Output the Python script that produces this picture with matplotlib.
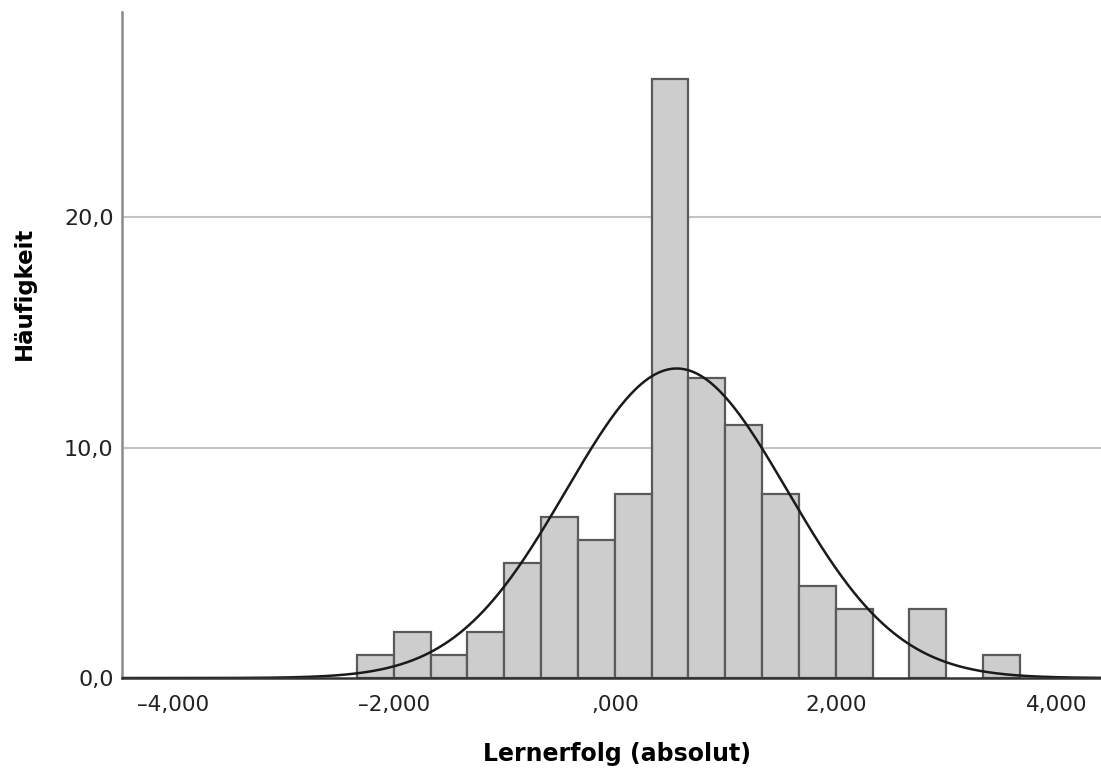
import numpy as np
import matplotlib
matplotlib.use("Agg")
import matplotlib.pyplot as plt

# ---- data ----
bin_start = -7 / 3          # left edge of first bin
bin_width = 1 / 3
counts = [1, 2, 1, 2, 5, 7, 6, 8, 26, 13, 11, 8, 4, 3, 0, 3, 0, 1]
curve_mean = 0.56
curve_sd = 1.0
x_ticks = [-4, -2, 0, 2, 4]
x_tick_labels = ["–4,000", "–2,000", ",000", "2,000", "4,000"]
y_ticks = [0, 10, 20]
y_tick_labels = ["0,0", "10,0", "20,0"]
x_label = "Lernerfolg (absolut)"
y_label = "Häufigkeit"

plt.rcParams['font.family'] = ['DejaVu Sans']

fig = plt.figure(figsize=(11.01, 7.69), dpi=100)
ax = fig.add_axes([0.1108, 0.1183, 0.8892, 0.8661])

n_total = sum(counts)
lefts = [bin_start + i * bin_width for i in range(len(counts))]
xs = [l for l, c in zip(lefts, counts) if c > 0]
hs = [c for c in counts if c > 0]

ax.set_xlim(-4.46, 4.40)
ax.set_ylim(0, 28.9)

for yv in y_ticks[1:]:
    ax.axhline(yv, color="#c4c4c4", lw=1.5, zorder=0)

ax.bar(xs, hs, width=bin_width, align="edge", color="#cdcdcd",
       edgecolor="#5a5a5a", linewidth=1.6, zorder=2)

xx = np.linspace(-4.46, 4.40, 600)
yy = n_total * bin_width / (curve_sd * np.sqrt(2 * np.pi)) * \
    np.exp(-0.5 * ((xx - curve_mean) / curve_sd) ** 2)
ax.plot(xx, yy, color="#1a1a1a", lw=1.8, zorder=3)

for s in ["top", "right"]:
    ax.spines[s].set_visible(False)
ax.spines["left"].set_color("#8a8a8a")
ax.spines["left"].set_linewidth(1.8)
ax.spines["bottom"].set_color("#333333")
ax.spines["bottom"].set_linewidth(1.8)
ax.spines["bottom"].set_zorder(4)

ax.set_xticks(x_ticks)
ax.set_xticklabels(x_tick_labels, fontsize=15.5, color="#222222")
ax.set_yticks(y_ticks)
ax.set_yticklabels(y_tick_labels, fontsize=16, color="#222222")
ax.tick_params(axis="both", length=0)
ax.tick_params(axis="x", pad=12)
ax.tick_params(axis="y", pad=6)

ax.set_xlabel(x_label, fontsize=17, fontweight="bold")
ax.xaxis.label.set_va("center")
ax.xaxis.set_label_coords((617 - 122) / 979, (678 - 754) / 666)
ax.set_ylabel(y_label, fontsize=16.5, fontweight="bold")
ax.yaxis.label.set_va("center")
ax.yaxis.set_label_coords((24 - 122) / 979, (678 - 293) / 666)

fig.savefig("out.png", dpi=100)
